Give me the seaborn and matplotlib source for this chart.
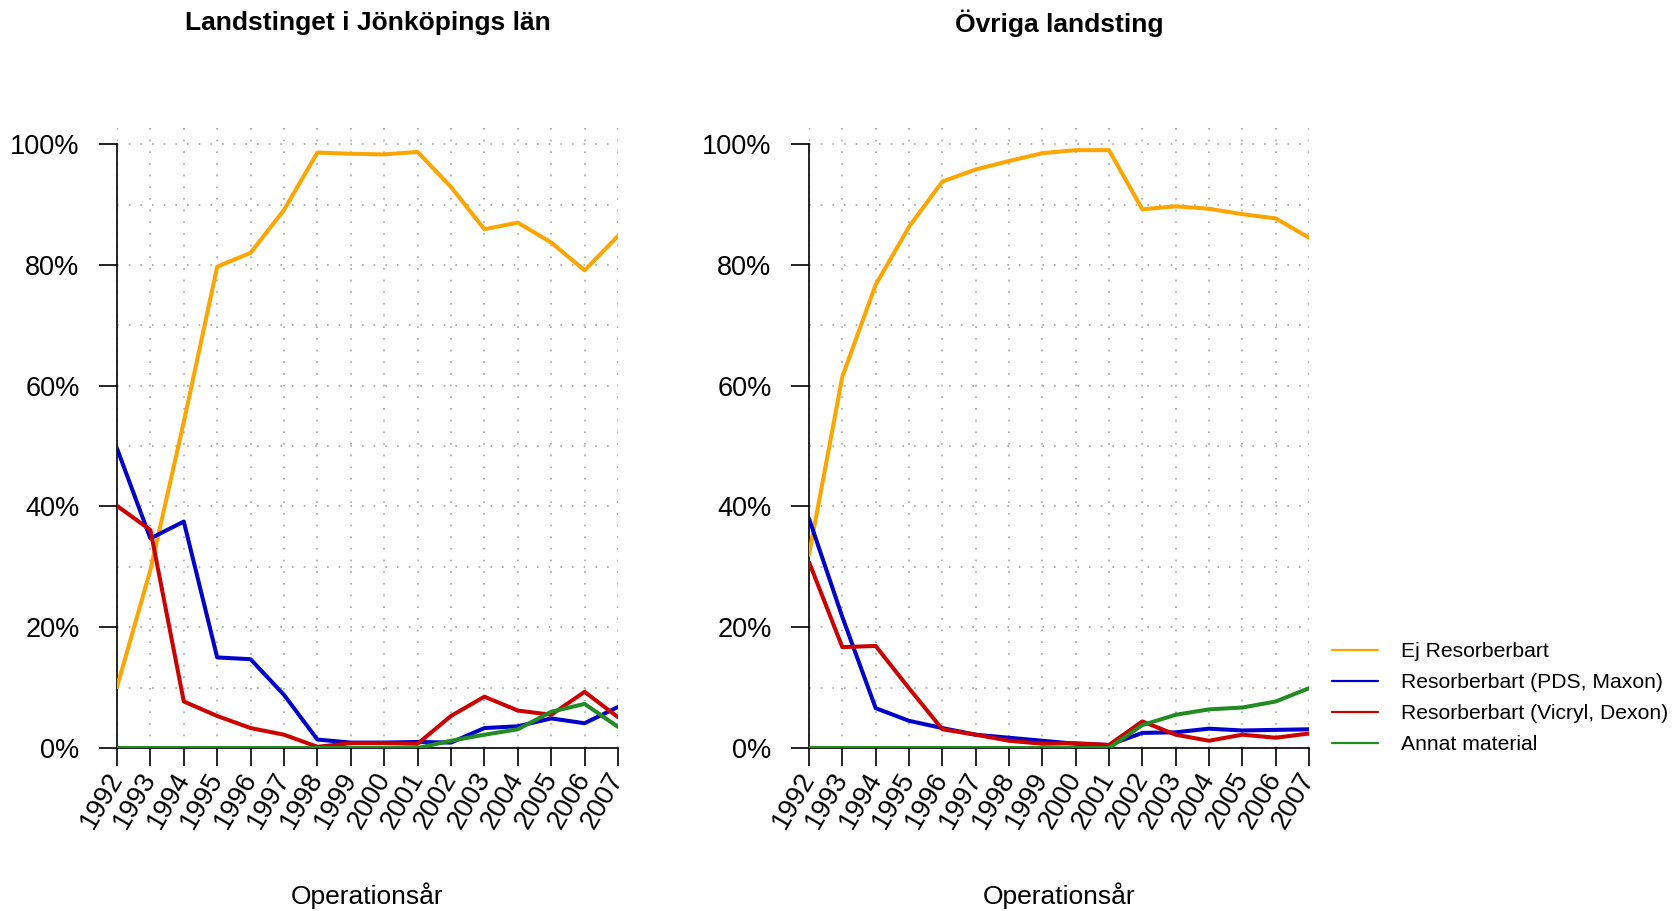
import matplotlib
matplotlib.use("Agg")
import matplotlib.pyplot as plt
import seaborn as sns
import pandas as pd
from matplotlib.ticker import PercentFormatter, MultipleLocator

years = list(range(1992, 2008))

categories = [
    "Ej Resorberbart",
    "Resorberbart (PDS, Maxon)",
    "Resorberbart (Vicryl, Dexon)",
    "Annat material",
]

# Landstinget i Jönköpings län (andel, 0-1)
jkp_ej = [0.101, 0.295, 0.54, 0.797, 0.820, 0.891, 0.986, 0.984, 0.983, 0.987,
          0.929, 0.859, 0.870, 0.837, 0.791, 0.848]
jkp_pds = [0.496, 0.347, 0.375, 0.150, 0.147, 0.088, 0.014, 0.009, 0.009, 0.010,
           0.009, 0.033, 0.036, 0.049, 0.041, 0.068]
jkp_vicryl = [0.401, 0.361, 0.077, 0.053, 0.033, 0.022, 0.002, 0.008, 0.008, 0.007,
              0.053, 0.085, 0.062, 0.055, 0.093, 0.051]
jkp_annat = [0.0, 0.0, 0.0, 0.0, 0.0, 0.0, 0.0, 0.0, 0.0, 0.0,
             0.012, 0.022, 0.031, 0.060, 0.073, 0.035]

# Övriga landsting
ovr_ej = [0.32, 0.615, 0.767, 0.863, 0.938, 0.958, 0.972, 0.985, 0.990, 0.990,
          0.892, 0.897, 0.893, 0.884, 0.877, 0.845]
ovr_pds = [0.380, 0.217, 0.066, 0.045, 0.033, 0.022, 0.017, 0.012, 0.007, 0.005,
           0.025, 0.026, 0.032, 0.029, 0.030, 0.031]
ovr_vicryl = [0.308, 0.167, 0.169, 0.099, 0.031, 0.022, 0.012, 0.007, 0.008, 0.005,
              0.044, 0.022, 0.012, 0.022, 0.017, 0.024]
ovr_annat = [0.0, 0.0, 0.0, 0.0, 0.0, 0.0, 0.0, 0.0, 0.0, 0.0,
             0.038, 0.055, 0.064, 0.067, 0.077, 0.099]

titles = ["Landstinget i Jönköpings län", "Övriga landsting"]
colors = ["#FFA500", "#0000CD", "#CD0000", "#228B22"]


def long_frame(series):
    rows = []
    for cat, vals in zip(categories, series):
        for yr, v in zip(years, vals):
            rows.append({"year": yr, "andel": v, "material": cat})
    return pd.DataFrame(rows)


panels = [
    long_frame([jkp_ej, jkp_pds, jkp_vicryl, jkp_annat]),
    long_frame([ovr_ej, ovr_pds, ovr_vicryl, ovr_annat]),
]

sns.set_theme(style="white")
plt.rcParams["font.family"] = ["Liberation Sans", "DejaVu Sans"]
plt.rcParams["text.color"] = "black"

fig = plt.figure(figsize=(16.76, 9.11), dpi=100)
W, H = 1676, 911
boxes = [(117, 618), (809, 1309)]
top_px, bot_px = 126, 748

palette = dict(zip(categories, colors))

for (x0, x1), df, title in zip(boxes, panels, titles):
    ax = fig.add_axes([x0 / W, 1 - bot_px / H, (x1 - x0) / W, (bot_px - top_px) / H])
    # dotted grid
    for yv in [i / 10 for i in range(11)]:
        ax.axhline(yv, color="#A8A8A8", lw=1.2, ls=(0, (1, 6)), zorder=0)
    for xv in years:
        ax.axvline(xv, color="#A8A8A8", lw=1.2, ls=(0, (1, 6)), zorder=0)

    sns.lineplot(data=df, x="year", y="andel", hue="material", hue_order=categories,
                 palette=palette, linewidth=2.9, legend=False, ax=ax, zorder=3)

    ax.set_xlim(1992, 2007)
    ax.set_ylim(0, 1.03)
    ax.set_xticks(years)
    ax.set_xticklabels([str(y) for y in years], rotation=60, ha="right",
                       va="center", rotation_mode="anchor")
    ax.yaxis.set_major_locator(MultipleLocator(0.2))
    ax.yaxis.set_major_formatter(PercentFormatter(1.0, decimals=0))
    ax.tick_params(axis="both", which="major", direction="out", length=13,
                   width=1.2, color="black", labelsize=19.5, labelcolor="black",
                   left=True, bottom=True)
    ax.tick_params(axis="y", pad=14)
    ax.tick_params(axis="x", pad=6)

    for s in ["top", "right"]:
        ax.spines[s].set_visible(False)
    ax.spines["left"].set_bounds(0, 1)
    ax.spines["bottom"].set_bounds(1992, 2007)
    for s in ["left", "bottom"]:
        ax.spines[s].set_color("black")
        ax.spines[s].set_linewidth(1.2)

    ax.set_xlabel("")
    ax.set_ylabel("")
    ax.set_facecolor("white")
    cx = ((x0 + x1) / 2) / W
    fig.text(cx, 1 - 23 / H, title, ha="center", va="center",
             fontsize=19, fontweight="bold", color="black")
    fig.text(cx, 1 - 896 / H, "Operationsår", ha="center", va="center",
             fontsize=19, color="black")

handles = [plt.Line2D([], [], color=c, lw=1.6) for c in colors]
fig.legend(handles, categories, loc="center left", bbox_to_anchor=(0.7832, 1 - 698 / H),
           frameon=False, fontsize=15.2, handlelength=2.2, handletextpad=1.1,
           labelspacing=0.57)

fig.savefig("out.png", dpi=100, facecolor="white")
